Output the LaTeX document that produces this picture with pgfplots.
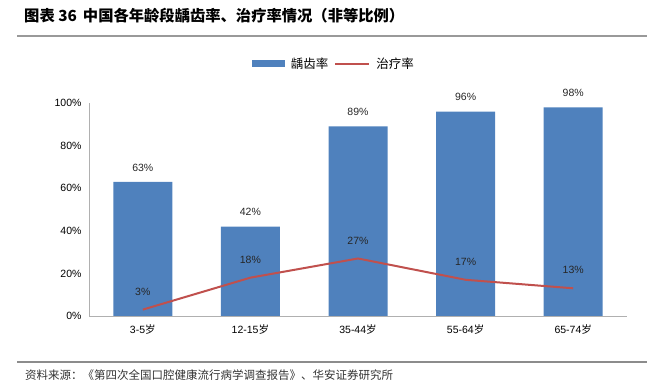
\documentclass[border=0pt]{standalone}
\usepackage{fontspec}
\setmainfont{Liberation Sans}
\newfontfamily\cjk{Noto Sans CJK SC}
\usepackage{pgfplots}
\pgfplotsset{compat=1.18}
\definecolor{barblue}{HTML}{4F81BD}
\definecolor{linered}{HTML}{C0504D}
\definecolor{axgray}{HTML}{B0B0B0}
\begin{document}
\begin{tikzpicture}[x=1pt,y=1pt]
\path[use as bounding box] (0,0) rectangle (647,390);
% title and rules
\node[anchor=west,inner sep=0pt,font=\fontsize{15.3}{18}\selectfont\cjk\bfseries] at (24,374) {图表 36\, 中国各年龄段龋齿率、治疗率情况（非等比例）};
\draw[color=gray!80, line width=2pt] (17,354) -- (647,354);
\draw[color=gray!90, line width=1.2pt] (17,28) -- (647,28);
\node[anchor=west,inner sep=0pt,font=\fontsize{11.5}{13}\selectfont\cjk,text=black!80] at (25,15) {资料来源：《第四次全国口腔健康流行病学调查报告》、华安证券研究所};
\begin{axis}[
  at={(89pt,74pt)}, anchor=south west,
  scale only axis, width=538pt, height=213pt,
  xmin=-0.5, xmax=4.5, ymin=0, ymax=100,
  axis x line*=bottom, axis y line*=left,
  axis line style={axgray, line width=0.8pt, -},
  major tick length=0pt,
  xtick={0,1,2,3,4},
  xticklabels={3-5{\cjk 岁}, 12-15{\cjk 岁}, 35-44{\cjk 岁}, 55-64{\cjk 岁}, 65-74{\cjk 岁}},
  ytick={0,20,40,60,80,100},
  yticklabels={0\%,20\%,40\%,60\%,80\%,100\%},
  ticklabel style={font=\fontsize{10.5}{12}\selectfont, text=black},
  xticklabel style={yshift=-5pt},
  yticklabel style={xshift=-4pt},
  /pgf/number format/assume math mode=true,
  legend columns=2,
  legend style={at={(0.455,1)}, anchor=south, yshift=29pt, draw=none, fill=none,
    font=\fontsize{12.5}{14}\selectfont\cjk, column sep=4pt},
  legend cell align=left,
]
\addplot[ybar, bar width=59pt, fill=barblue, draw=none,
  nodes near coords={\pgfmathprintnumber{\pgfplotspointmeta}\%},
  nodes near coords style={font=\fontsize{10.5}{12}\selectfont, text=black!85, anchor=south, yshift=7pt},
  legend image code/.code={\fill[barblue] (0pt,-3.5pt) rectangle (33pt,3.5pt);}]
  coordinates {(0,63) (1,42) (2,89) (3,96) (4,98)};
\addlegendentry{龋齿率\hspace{14pt}}
\addplot[color=linered, line width=2pt, mark=none,
  nodes near coords={\pgfmathprintnumber{\pgfplotspointmeta}\%},
  nodes near coords style={font=\fontsize{10.5}{12}\selectfont, text=black!85, anchor=south, yshift=10pt},
  legend image code/.code={\draw[linered, line width=2pt] (0pt,0pt) -- (34pt,0pt);}]
  coordinates {(0,3) (1,18) (2,27) (3,17) (4,13)};
\addlegendentry{治疗率}
\end{axis}
\end{tikzpicture}
\end{document}
